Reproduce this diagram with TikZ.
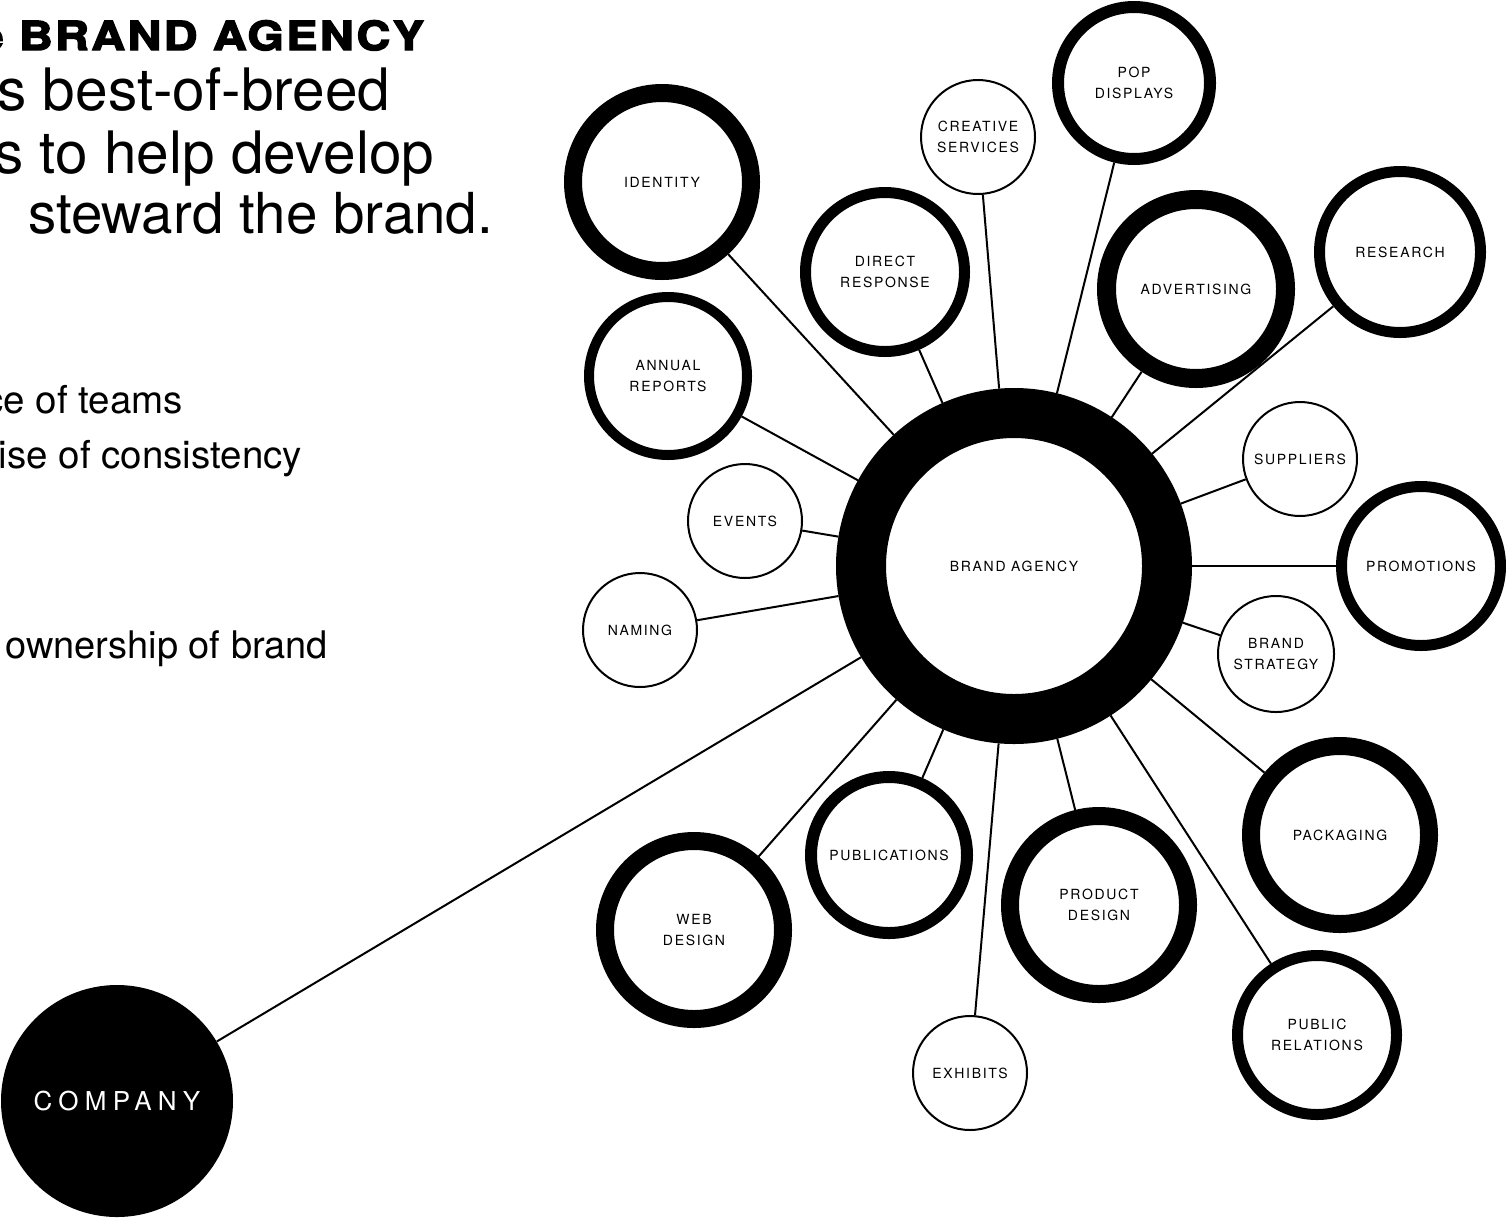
\documentclass[tikz,border=0pt]{standalone}
\usepackage{fontspec}
\setmainfont{TeX Gyre Heros}
\newfontfamily\lblfont{TeX Gyre Heros}[LetterSpace=12]
\newfontfamily\heavyfont{texgyreheros-bold.otf}[FakeBold=3.5,FakeStretch=1.17,LetterSpace=6]
\newfontfamily\compfont{TeX Gyre Heros}[LetterSpace=24]
\begin{document}
\begin{tikzpicture}[x=1pt,y=-1pt,
  bub/.style 2 args={circle, draw=black, fill=white, inner sep=0pt, align=center,
    line width=#2pt, minimum size={2*#1-#2},
    font={\lblfont\fontsize{14}{21}\selectfont}},
  conn/.style={draw=black, line width=2pt},
  txt/.style={inner sep=0pt, outer sep=0pt}]
\useasboundingbox (0,0) rectangle (1506,1219);
\clip (0,0) rectangle (1506,1219);
\fill[white] (0,0) rectangle (1506,1219);

% headline text
\node[txt, anchor=base east, font={\heavyfont\fontsize{40}{44}\selectfont}] (h1) at (424,50) {e BRAND AGENCY};
\node[txt, anchor=base east, font={\fontsize{58.5}{60}\selectfont}] (h2) at (390,110) {s best-of-breed};
\node[txt, anchor=base east, font={\fontsize{58.5}{60}\selectfont}] (h3) at (434,173) {s to help develop};
\node[txt, anchor=base east, font={\fontsize{56.5}{60}\selectfont}] (h4) at (493,233) {steward the brand.};
\node[txt, anchor=base east, font={\fontsize{38.5}{40}\selectfont}] (b1) at (183,413) {ce of teams};
\node[txt, anchor=base east, font={\fontsize{38.5}{40}\selectfont}] (b2) at (302,468) {ise of consistency};
\node[txt, anchor=base east, font={\fontsize{38}{40}\selectfont}] (b3) at (328,658) {ownership of brand};

% central node
\node[circle, draw=black, fill=white, line width=50pt, minimum size=306, inner sep=0pt,
  font={\lblfont\fontsize{14}{21}\selectfont}] (brand) at (1014,566) {BRAND AGENCY};

% satellites
\node[bub={98}{18}] (identity) at (662,182) {IDENTITY};
\node[bub={85}{11}] (direct) at (885,272) {DIRECT\\RESPONSE};
\node[bub={58}{2}] (creative) at (978,137) {CREATIVE\\SERVICES};
\node[bub={82}{12}] (pop) at (1134,83) {POP\\DISPLAYS};
\node[bub={99}{19}] (advertising) at (1196,289) {ADVERTISING};
\node[bub={86}{11}] (research) at (1400,252) {RESEARCH};
\node[bub={84}{10}] (annual) at (668,376) {ANNUAL\\REPORTS};
\node[bub={58}{2}] (events) at (745,521) {EVENTS};
\node[bub={58}{2}] (naming) at (640,630) {NAMING};
\node[bub={58}{2}] (suppliers) at (1300,459) {SUPPLIERS};
\node[bub={85}{11}] (promotions) at (1421,566) {PROMOTIONS};
\node[bub={59}{2}] (strategy) at (1276,654) {BRAND\\STRATEGY};
\node[bub={98}{18}] (packaging) at (1340,835) {PACKAGING};
\node[bub={85}{11}] (pr) at (1317,1035) {PUBLIC\\RELATIONS};
\node[bub={58}{2}] (exhibits) at (970,1073) {EXHIBITS};
\node[bub={98}{18}] (product) at (1099,905) {PRODUCT\\DESIGN};
\node[bub={84}{12}] (publications) at (889,855) {PUBLICATIONS};
\node[bub={98}{18}] (web) at (694,930) {WEB\\DESIGN};

% company
\node[circle, fill=black, minimum size=232, inner sep=0pt, text=white,
  font={\compfont\fontsize{26}{30}\selectfont}] (company) at (117,1101) {COMPANY};

% connectors
\foreach \n in {identity,direct,creative,pop,advertising,research,annual,events,naming,
  suppliers,promotions,strategy,packaging,pr,exhibits,product,publications,web,company}
  \draw[conn] (\n) -- (brand);
\end{tikzpicture}
\end{document}
